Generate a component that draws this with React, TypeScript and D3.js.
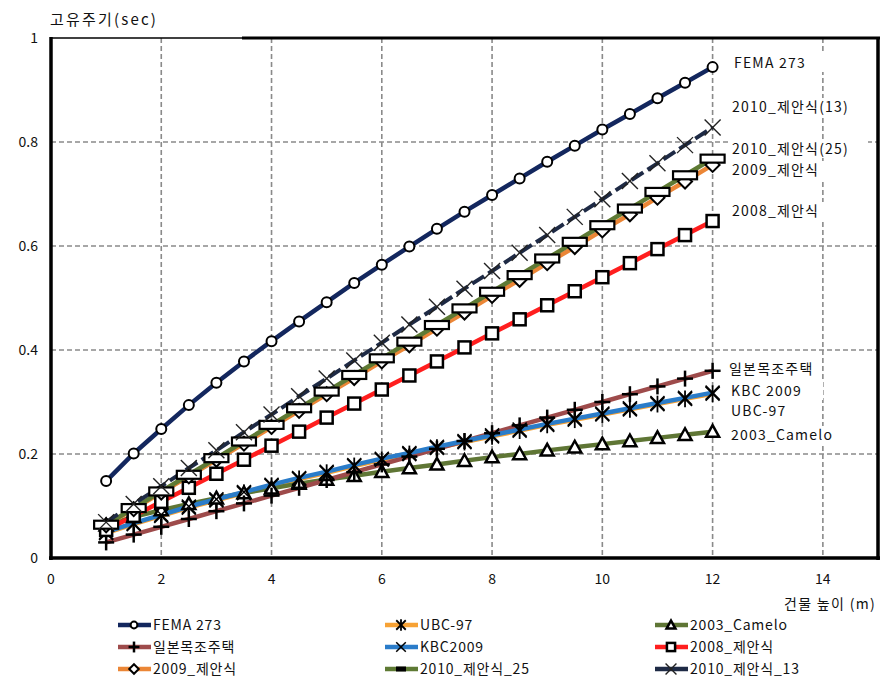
import React from "react";
import * as d3 from "d3";

const heights = [1, 1.5, 2, 2.5, 3, 3.5, 4, 4.5, 5, 5.5, 6, 6.5, 7, 7.5, 8, 8.5, 9, 9.5, 10, 10.5, 11, 11.5, 12];
const fema273 = [0.148, 0.201, 0.248, 0.294, 0.337, 0.378, 0.417, 0.455, 0.492, 0.529, 0.564, 0.599, 0.633, 0.666, 0.698, 0.730, 0.762, 0.793, 0.824, 0.854, 0.884, 0.914, 0.944];
const ubc97 = [0.048, 0.065, 0.081, 0.097, 0.111, 0.125, 0.139, 0.152, 0.164, 0.177, 0.189, 0.200, 0.212, 0.223, 0.234, 0.245, 0.256, 0.266, 0.276, 0.286, 0.296, 0.306, 0.316];
const camelo2003 = [0.063, 0.079, 0.092, 0.104, 0.115, 0.125, 0.134, 0.143, 0.151, 0.158, 0.166, 0.173, 0.180, 0.187, 0.194, 0.200, 0.207, 0.213, 0.219, 0.225, 0.231, 0.237, 0.243];
const japanWood = [0.030, 0.045, 0.060, 0.075, 0.090, 0.105, 0.120, 0.135, 0.150, 0.165, 0.180, 0.195, 0.210, 0.225, 0.240, 0.255, 0.270, 0.285, 0.300, 0.315, 0.330, 0.345, 0.360];
const kbc2009 = [0.050, 0.067, 0.083, 0.099, 0.113, 0.127, 0.141, 0.154, 0.166, 0.179, 0.191, 0.202, 0.214, 0.225, 0.236, 0.247, 0.258, 0.268, 0.278, 0.288, 0.298, 0.308, 0.318];
const prop2008 = [0.054, 0.081, 0.108, 0.135, 0.162, 0.189, 0.216, 0.243, 0.270, 0.297, 0.324, 0.351, 0.378, 0.405, 0.432, 0.459, 0.486, 0.513, 0.540, 0.567, 0.594, 0.621, 0.648];
const prop2009 = [0.063, 0.094, 0.126, 0.157, 0.189, 0.220, 0.252, 0.283, 0.315, 0.346, 0.378, 0.409, 0.441, 0.472, 0.504, 0.535, 0.567, 0.598, 0.630, 0.661, 0.693, 0.724, 0.756];
const prop2010_25 = [0.064, 0.096, 0.128, 0.160, 0.192, 0.224, 0.256, 0.288, 0.320, 0.352, 0.384, 0.416, 0.448, 0.480, 0.512, 0.544, 0.576, 0.608, 0.640, 0.672, 0.704, 0.736, 0.768];
const prop2010_13 = [0.069, 0.104, 0.138, 0.173, 0.207, 0.242, 0.276, 0.311, 0.345, 0.380, 0.414, 0.449, 0.483, 0.518, 0.552, 0.587, 0.621, 0.656, 0.690, 0.725, 0.759, 0.794, 0.828];

const xTicks = [0, 2, 4, 6, 8, 10, 12, 14];
const yTicks = [0, 0.2, 0.4, 0.6, 0.8, 1];

type Marker = "circle" | "asterisk" | "triangle" | "plus" | "x" | "square" | "diamond" | "bar" | "xthin";

const seriesNames = ["FEMA 273", "UBC-97", "2003_Camelo", "일본목조주택", "KBC2009", "2008_제안식", "2009_제안식", "2010_제안식_25", "2010_제안식_13"];
const seriesValues = [fema273, ubc97, camelo2003, japanWood, kbc2009, prop2008, prop2009, prop2010_25, prop2010_13];
const seriesColors = ["#13275e", "#f7a235", "#5f7635", "#9e4b4b", "#2a7cc9", "#ff1e1e", "#eb8636", "#5e7a34", "#1e2a45"];
const seriesMarkers: Marker[] = ["circle", "asterisk", "triangle", "plus", "x", "square", "diamond", "bar", "xthin"];
const seriesDash = ["", "", "", "", "", "", "", "", "14,5"];

const endLabels = ["FEMA 273", "2010_제안식(13)", "2010_제안식(25)", "2009_제안식", "2008_제안식", "일본목조주택", "KBC 2009", "UBC-97", "2003_Camelo"];
const endLabelY = [63, 107, 149, 170, 211, 369, 391, 411, 435];
const endLabelX = [734, 732, 732, 732, 732, 729, 731, 731, 731];

const FONT = "'Noto Sans CJK KR', 'Noto Sans', sans-serif";

function MarkerShape({ type, x, y, s = 1 }: { type: Marker; x: number; y: number; s?: number }) {
  switch (type) {
    case "circle":
      return <circle cx={x} cy={y} r={5 * s} fill="#fff" stroke="#000" strokeWidth={2} />;
    case "asterisk": {
      const h = 7 * s;
      return (
        <g stroke="#000" strokeWidth={1.8}>
          <line x1={x - h} y1={y - h} x2={x + h} y2={y + h} />
          <line x1={x - h} y1={y + h} x2={x + h} y2={y - h} />
          <line x1={x} y1={y - h * 1.2} x2={x} y2={y + h * 1.2} />
        </g>
      );
    }
    case "triangle": {
      const h = 6.5 * s;
      return <path d={`M${x},${y - h} L${x + h},${y + h * 0.8} L${x - h},${y + h * 0.8} Z`} fill="#fff" stroke="#000" strokeWidth={2.5} />;
    }
    case "plus": {
      const h = 8 * s;
      return (
        <g stroke="#000" strokeWidth={2.5}>
          <line x1={x - h} y1={y} x2={x + h} y2={y} />
          <line x1={x} y1={y - h} x2={x} y2={y + h} />
        </g>
      );
    }
    case "x": {
      const h = 7 * s;
      return (
        <g stroke="#000" strokeWidth={1.5}>
          <line x1={x - h} y1={y - h} x2={x + h} y2={y + h} />
          <line x1={x - h} y1={y + h} x2={x + h} y2={y - h} />
        </g>
      );
    }
    case "square": {
      const h = 6 * s;
      return <rect x={x - h} y={y - h} width={2 * h} height={2 * h} fill="#fff" stroke="#000" strokeWidth={2.5} />;
    }
    case "diamond": {
      const h = 7 * s;
      return <path d={`M${x},${y - h} L${x + h},${y} L${x},${y + h} L${x - h},${y} Z`} fill="#fff" stroke="#000" strokeWidth={2} />;
    }
    case "bar": {
      if (s < 1) return <rect x={x - 5} y={y - 2.5} width={10} height={5} fill="#000" />;
      return <rect x={x - 12} y={y - 4} width={24} height={8} fill="#fff" stroke="#000" strokeWidth={2.2} />;
    }
    case "xthin": {
      const h = 8 * s;
      return (
        <g stroke="#222" strokeWidth={1.4}>
          <line x1={x - h} y1={y - h} x2={x + h} y2={y + h} />
          <line x1={x - h} y1={y + h} x2={x + h} y2={y - h} />
        </g>
      );
    }
  }
  return null;
}

export default function App() {
  const W = 893, H = 695;
  const x = d3.scaleLinear().domain([0, 15]).range([51, 878]);
  const y = d3.scaleLinear().domain([0, 1]).range([558, 38]);
  const line = d3.line<number>().x((_, i) => x(heights[i])).y((v) => y(v));

  const legendCols = [118, 385, 655];
  const legendRows = [625, 647, 669];

  return (
    <svg width={W} height={H} style={{ position: "absolute", left: 0, top: 0, background: "#fff" }} fontFamily={FONT}>
      <rect x={0} y={0} width={W} height={H} fill="#fff" />
      {xTicks.filter((t) => t > 0).map((t) => (
        <line key={"gx" + t} x1={x(t)} x2={x(t)} y1={y(1)} y2={y(0)} stroke="#8a8a8a" strokeWidth={1.6} strokeDasharray="5,3" />
      ))}
      {yTicks.filter((t) => t > 0 && t < 1).map((t) => (
        <line key={"gy" + t} x1={x(0)} x2={x(15)} y1={y(t)} y2={y(t)} stroke="#8a8a8a" strokeWidth={1.6} strokeDasharray="5,3" />
      ))}
      {seriesValues.map((vals, si) => (
        <path key={"l" + si} d={line(vals) || ""} fill="none" stroke={seriesColors[si]} strokeWidth={si === 8 ? 4 : 4.5} strokeDasharray={seriesDash[si] || undefined} />
      ))}
      {seriesValues.map((vals, si) => (
        <g key={"m" + si}>
          {vals.map((v, i) => (
            <MarkerShape key={i} type={seriesMarkers[si]} x={x(heights[i])} y={y(v)} />
          ))}
        </g>
      ))}
      <line x1={x(0)} x2={x(0)} y1={y(1) - 1} y2={y(0) + 2} stroke="#000" strokeWidth={3.5} />
      <line x1={x(0) - 2} x2={x(15) + 2} y1={y(0)} y2={y(0)} stroke="#000" strokeWidth={3.5} />
      <line x1={x(15)} x2={x(15)} y1={y(1) - 1} y2={y(0) + 2} stroke="#000" strokeWidth={3.5} />
      <line x1={x(0)} x2={242} y1={y(1)} y2={y(1)} stroke="#000" strokeWidth={1.6} />
      <line x1={242} x2={x(15) + 2} y1={y(1)} y2={y(1)} stroke="#000" strokeWidth={3} />
      {endLabels.map((t, i) => (
        <g key={"el" + i}>
          <rect x={endLabelX[i] - 2} y={endLabelY[i] - 9} width={t.length * 11 + 6} height={18} fill="#fff" />
          <text x={endLabelX[i]} y={endLabelY[i]} dy="0.35em" fontSize={14} letterSpacing={1.2} fill="#111">{t}</text>
        </g>
      ))}
      {yTicks.map((t) => (
        <text key={"yt" + t} x={38} y={y(t)} dy="0.35em" textAnchor="end" fontSize={14} fill="#111">{d3.format("~g")(t)}</text>
      ))}
      {xTicks.map((t) => (
        <text key={"xt" + t} x={x(t)} y={579} dy="0.35em" textAnchor="middle" fontSize={14} fill="#111">{t}</text>
      ))}
      <text x={50} y={20} dy="0.35em" fontSize={15} letterSpacing={2.2} fill="#111">고유주기(sec)</text>
      <text x={876} y={604} dy="0.35em" textAnchor="end" fontSize={14} letterSpacing={1.3} fill="#111">건물 높이 (m)</text>
      {seriesNames.map((n, i) => {
        const cx = legendCols[i % 3];
        const cy = legendRows[Math.floor(i / 3)];
        return (
          <g key={"lg" + i}>
            <line x1={cx} x2={cx + 33} y1={cy} y2={cy} stroke={seriesColors[i]} strokeWidth={4.5} />
            <MarkerShape type={seriesMarkers[i]} x={cx + 16} y={cy} s={0.68} />
            <text x={cx + 35} y={cy} dy="0.35em" fontSize={14} letterSpacing={0.8} fill="#111">{n}</text>
          </g>
        );
      })}
    </svg>
  );
}
